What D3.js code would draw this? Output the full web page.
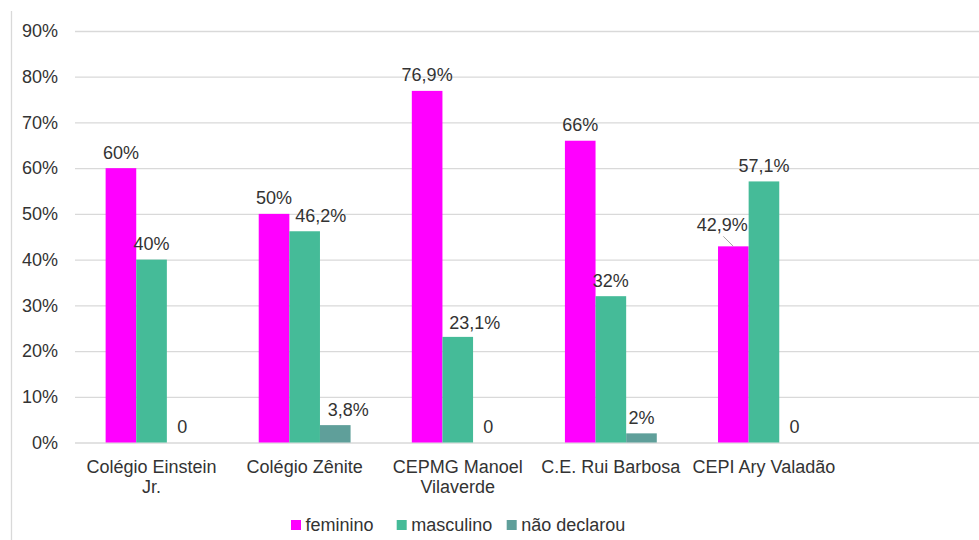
<!DOCTYPE html>
<html>
<head>
  <meta charset="utf-8">
  <title>Gênero por escola</title>
  <style>
    body { margin: 0; background: #fff; }
    svg { display: block; font-family: "Liberation Sans", Arial, sans-serif; }
    .grid line { stroke: #d9d9d9; stroke-width: 1.3; }
    .grid path { display: none; }
  </style>
</head>
<body>
  <div id="chart"></div>

  <script src="https://cdn.jsdelivr.net/npm/d3@7/dist/d3.min.js"></script>
  <script>
    // data (percent)
    const categories = ['Colégio Einstein Jr.', 'Colégio Zênite', 'CEPMG Manoel Vilaverde', 'C.E. Rui Barbosa', 'CEPI Ary Valadão'];
    const seriesNames = ['feminino', 'masculino', 'não declarou'];
    const feminino = [60, 50, 76.9, 66, 42.9];
    const masculino = [40, 46.2, 23.1, 32, 57.1];
    const naoDeclarou = [0, 3.8, 0, 2, 0];
    const yTicks = [0, 10, 20, 30, 40, 50, 60, 70, 80, 90];

    const seriesValues = [feminino, masculino, naoDeclarou];
    const colors = ['#ff00ff', '#45bb98', '#5f9f9a'];

    // labels Excel moved aside to avoid overlaps  [series, category] -> [dx, dy]
    const labelNudge = {
      '1-1': [16, 0],
      '2-1': [13, 0],
      '1-2': [17, 2],
      '0-4': [-11, -6]
    };

    const W = 979, H = 540;
    const plot = {left: 75, top: 31, bottom: 442.5, slot: 153.1};
    const fontSize = 18;
    const textColor = '#333';

    const svg = d3.select('#chart').append('svg')
      .attr('width', W)
      .attr('height', H);

    // the original chart keeps one empty slot at the right
    const slots = categories.concat(['']);

    const x0 = d3.scaleBand()
      .domain(slots)
      .range([plot.left, plot.left + plot.slot * slots.length])
      .paddingInner(0).paddingOuter(0);

    const x1 = d3.scaleBand()
      .domain(seriesNames)
      .range([x0.bandwidth() * 0.2, x0.bandwidth() * 0.8]);

    const y = d3.scaleLinear()
      .domain([0, 90])
      .range([plot.bottom, plot.top]);

    // outer frame line on the left
    svg.append('line')
      .attr('x1', 11.5).attr('x2', 11.5)
      .attr('y1', 11).attr('y2', H)
      .attr('stroke', '#d9d9d9')
      .attr('stroke-width', 1.3);

    // gridlines
    svg.append('g')
      .attr('class', 'grid')
      .attr('transform', 'translate(' + plot.left + ',0)')
      .call(d3.axisLeft(y).tickValues(yTicks).tickSize(-(W - plot.left)).tickFormat(''));

    // y tick labels
    svg.append('g')
      .attr('transform', 'translate(' + plot.left + ',0)')
      .call(d3.axisLeft(y).tickValues(yTicks).tickSize(0).tickPadding(17).tickFormat(d => d + '%'))
      .call(g => g.select('.domain').remove())
      .selectAll('text')
        .style('font-size', fontSize + 'px')
        .attr('fill', textColor);

    // bars
    const rows = [];
    categories.forEach((c, ci) => {
      seriesNames.forEach((s, si) => {
        rows.push({cat: c, ci: ci, series: s, si: si, value: seriesValues[si][ci]});
      });
    });

    svg.append('g').selectAll('rect')
      .data(rows)
      .enter()
      .append('rect')
        .attr('x', d => x0(d.cat) + x1(d.series))
        .attr('y', d => y(d.value))
        .attr('width', x1.bandwidth())
        .attr('height', d => y(0) - y(d.value))
        .attr('fill', d => colors[d.si]);

    // value labels
    const fmt = v => v === 0 ? '0' : String(v).replace('.', ',') + '%';
    const labels = svg.append('g').selectAll('g')
      .data(rows)
      .enter()
      .append('g');

    labels.append('text')
      .attr('x', d => x0(d.cat) + x1(d.series) + x1.bandwidth() / 2 + (labelNudge[d.si + '-' + d.ci] || [0, 0])[0])
      .attr('y', d => y(d.value) - 9.5 + (labelNudge[d.si + '-' + d.ci] || [0, 0])[1])
      .attr('text-anchor', 'middle')
      .style('font-size', fontSize + 'px')
      .attr('fill', textColor)
      .text(d => fmt(d.value));

    // leader line for the moved 42,9% label
    labels.filter(d => d.si === 0 && d.ci === 4)
      .append('line')
        .attr('x1', d => x0(d.cat) + x1(d.series) + x1.bandwidth() / 2 - 10)
        .attr('y1', d => y(d.value) - 10)
        .attr('x2', d => x0(d.cat) + x1(d.series) + x1.bandwidth() / 2)
        .attr('y2', d => y(d.value))
        .attr('stroke', '#a6a6a6')
        .attr('stroke-width', 1);

    // category labels (wrapped like Excel)
    const catText = svg.append('g').selectAll('text')
      .data(categories)
      .enter()
      .append('text')
        .attr('text-anchor', 'middle')
        .style('font-size', fontSize + 'px')
        .attr('fill', textColor)
        .attr('y', 472.5);

    catText.each(function (c) {
      const t = d3.select(this);
      const cx = x0(c) + x0.bandwidth() / 2;
      const words = c.split(' ');
      let line = [];
      let tspan = t.append('tspan').attr('x', cx).attr('dy', 0);
      words.forEach(w => {
        line.push(w);
        tspan.text(line.join(' '));
        if (tspan.node().getComputedTextLength() > x0.bandwidth() - 2 && line.length > 1) {
          line.pop();
          tspan.text(line.join(' '));
          line = [w];
          tspan = t.append('tspan').attr('x', cx).attr('dy', 20.5).text(w);
        }
      });
    });

    // legend
    const legendX = [291, 396.7, 506.7];
    const legend = svg.append('g').selectAll('g')
      .data(seriesNames)
      .enter()
      .append('g')
        .attr('transform', (d, i) => 'translate(' + legendX[i] + ',525)');

    legend.append('rect')
      .attr('x', 0).attr('y', -5)
      .attr('width', 10).attr('height', 10)
      .attr('fill', (d, i) => colors[i]);

    legend.append('text')
      .attr('x', 14.5)
      .attr('y', 6.4)
      .style('font-size', fontSize + 'px')
      .attr('fill', textColor)
      .text(d => d);
  </script>
</body>
</html>
